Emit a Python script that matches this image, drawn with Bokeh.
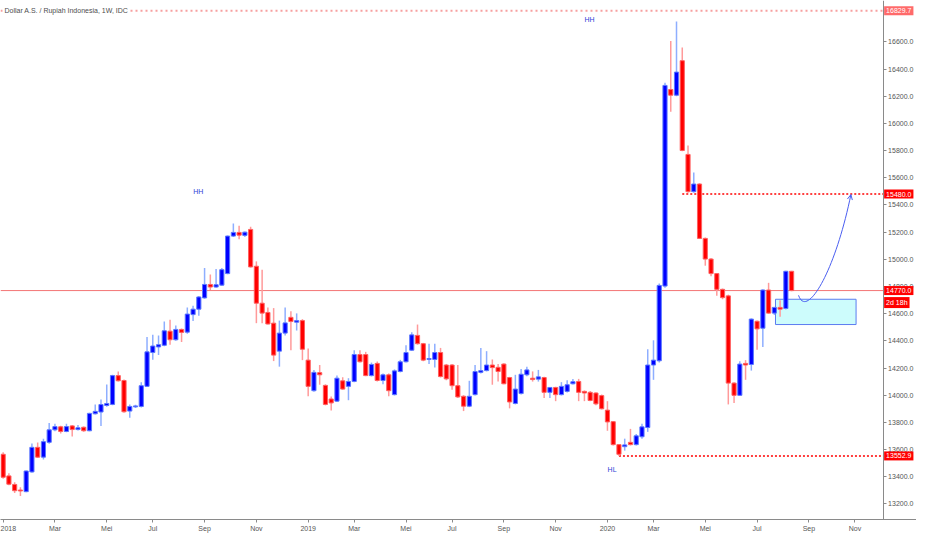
import numpy as np
import pandas as pd
from bokeh.plotting import figure
from bokeh.models import (Range1d, FixedTicker, NumeralTickFormatter, Label, LinearAxis,
                          Arrow, OpenHead, ColumnDataSource)
from bokeh.embed import file_html
from bokeh.resources import INLINE

# ---------------- data (weekly USD/IDR candles, first week 2018-01-01) ----------------
FIRST_WEEK = "2018-01-01"
opens = [13565, 13406, 13343, 13302, 13290, 13435, 13616, 13544, 13653, 13745,
         13767, 13733, 13774, 13747, 13764, 13738, 13863, 13876, 13924, 13932,
         14144, 14108, 13883, 13914, 13917, 14065, 14314, 14355, 14367, 14471,
         14408, 14484, 14464, 14593, 14633, 14716, 14815, 14796, 14810, 14895,
         15171, 15198, 15176, 15220, 14949, 14677, 14609, 14530, 14324, 14457,
         14573, 14537, 14549, 14258, 14033, 14166, 14072, 13972, 13956, 14106,
         14065, 14101, 14299, 14299, 14144, 14234, 14108, 14150, 14004, 14174,
         14246, 14331, 14440, 14379, 14263, 14263, 14314, 14222, 14222, 14070,
         13992, 13919, 14004, 14168, 14181, 14222, 14205, 14229, 14130, 13939,
         14012, 14150, 14125, 14118, 14130, 14021, 14057, 14004, 14028, 14084,
         14101, 14028, 14021, 14016, 13997, 13890, 13805, 13636, 13621, 13653,
         13636, 13694, 13762, 14222, 14253, 14803, 16250, 16208, 16462, 15772,
         15498, 15554, 15154, 15002, 14895, 14779, 14731, 14089, 13999, 14234,
         14226, 14544, 14493, 14774, 14604, 14646, 14638, 14912]
highs = [13580, 13425, 13360, 13323, 13445, 13645, 13652, 13680, 13796, 13789,
         13775, 13789, 13780, 13781, 13770, 13870, 13932, 13968, 14079, 14150,
         14174, 14115, 13932, 13930, 14096, 14428, 14444, 14440, 14542, 14556,
         14513, 14490, 14646, 14658, 14730, 14936, 14888, 14929, 14936, 15175,
         15263, 15247, 15205, 15239, 14985, 14924, 14646, 14641, 14549, 14646,
         14617, 14602, 14560, 14343, 14186, 14222, 14080, 13990, 14144, 14132,
         14125, 14331, 14331, 14319, 14240, 14248, 14160, 14160, 14190, 14260,
         14367, 14464, 14520, 14385, 14379, 14379, 14348, 14230, 14230, 14222,
         14000, 14106, 14222, 14348, 14324, 14263, 14230, 14235, 14135, 14150,
         14193, 14210, 14175, 14186, 14136, 14060, 14062, 14096, 14110, 14120,
         14120, 14035, 14030, 14022, 14005, 13956, 13810, 13640, 13680, 13752,
         13715, 13790, 14338, 14404, 14822, 16300, 16607, 16750, 16559, 15837,
         15639, 15560, 15160, 15010, 14900, 14785, 14740, 14095, 14250, 14258,
         14565, 14550, 14780, 14827, 14650, 14699, 14915, 14915]
lows = [13385, 13338, 13280, 13258, 13285, 13430, 13540, 13527, 13643, 13735,
        13718, 13728, 13696, 13740, 13730, 13735, 13858, 13774, 13915, 13925,
        14100, 13870, 13834, 13905, 13910, 14060, 14261, 14295, 14360, 14372,
        14400, 14392, 14452, 14546, 14585, 14710, 14774, 14790, 14805, 14890,
        15165, 15147, 15165, 14940, 14530, 14530, 14520, 14251, 14210, 14440,
        14331, 14476, 14258, 13992, 14025, 14077, 13925, 13888, 13950, 14040,
        13963, 14095, 14240, 14140, 14138, 14100, 14081, 13992, 13998, 14168,
        14240, 14325, 14372, 14250, 14230, 14203, 14130, 14110, 14040, 13980,
        13883, 13912, 13998, 14160, 14175, 14077, 14101, 14080, 13903, 13932,
        14005, 14140, 14100, 14100, 13980, 13980, 13956, 13998, 14020, 14078,
        13956, 13956, 13955, 13925, 13895, 13738, 13630, 13552.9, 13592, 13630,
        13630, 13680, 13730, 14113, 14240, 14790, 16087, 16200, 15795, 15490,
        15490, 15150, 14953, 14876, 14731, 14706, 13932, 13943, 13995, 14113,
        14181, 14335, 14355, 14600, 14590, 14578, 14630, 14765]
closes = [13396, 13345, 13297, 13295, 13442, 13616, 13544, 13658, 13745, 13769,
          13733, 13769, 13747, 13760, 13738, 13866, 13881, 13931, 13939, 14144,
          14106, 13878, 13917, 13921, 14070, 14319, 14362, 14372, 14474, 14408,
          14484, 14462, 14597, 14633, 14723, 14815, 14796, 14813, 14924, 15171,
          15198, 15178, 15200, 14944, 14677, 14604, 14524, 14295, 14457, 14532,
          14542, 14549, 14338, 14065, 14168, 14150, 13932, 13943, 14125, 14045,
          14101, 14299, 14246, 14144, 14226, 14108, 14150, 14033, 14179, 14246,
          14314, 14444, 14379, 14258, 14270, 14314, 14137, 14120, 14070, 13987,
          13919, 13992, 14174, 14181, 14222, 14203, 14174, 14084, 13950, 14045,
          14154, 14186, 14115, 14135, 14021, 14057, 14004, 14065, 14077, 14099,
          14021, 14016, 13961, 13936, 13900, 13803, 13636, 13565, 13634, 13636,
          13701, 13767, 14222, 14258, 14808, 16280, 16208, 16378, 15801, 15498,
          15554, 15154, 15002, 14895, 14779, 14718, 14089, 13999, 14229, 14222,
          14560, 14488, 14774, 14604, 14646, 14633, 14912, 14770]

# tick labels (Indonesian month abbreviations; January shows the year)
tick_months = [1, 3, 5, 7, 9, 11]
month_names = {3: "Mar", 5: "Mei", 7: "Jul", 9: "Sep", 11: "Nov"}
tick_years = [2018, 2019, 2020]
price_ticks = list(range(13200, 16601, 200))

# annotation levels and texts
top_level = 16829.7
resist_level = 15480.0
resist_start_bar = 118
hl_level = 13552.9
last_price = closes[-1]
countdown = "2d 18h"
title_text = "Dollar A.S. / Rupiah Indonesia, 1W, IDC"
swing_labels = [("HH", 33.9, 15496), ("HH", 101.9, 16767), ("HL", 105.8, 13454)]
zone_left, zone_right, zone_top, zone_bottom = 134.2, 148.2, 14706, 14520
path_start = (138.2, 14735)
path_c1 = (139.6, 14560)
path_c2 = (144.5, 14900)
path_end = (147.3, 15476)

X_RANGE = (-0.46, 158.7)
AXIS_X = 152.9
Y_RANGE = (13085, 16905)

# ---------------- figure ----------------
FONT = "Liberation Sans"
BLUE, RED = "#0000ff", "#ff0000"

p = figure(width=916, height=534, output_backend="svg", toolbar_location=None,
           x_range=Range1d(*X_RANGE), y_range=Range1d(*Y_RANGE),
           y_axis_location=None, min_border_left=0, min_border_top=0,
           min_border_right=0, min_border_bottom=14)
p.outline_line_color = None
p.grid.visible = False
p.background_fill_color = "white"

n = len(opens)
idx = np.arange(n)
o = np.array(opens, float); h = np.array(highs, float)
l = np.array(lows, float); c = np.array(closes, float)
up = c >= o
src = ColumnDataSource(dict(
    x=idx, high=h, low=l,
    top=np.maximum(o, c), bottom=np.minimum(o, c),
    fill=np.where(up, BLUE, RED),
    edge=np.where(up, "#5a78ff", "#ff6060"),
    wick=np.where(up, "#8eaeff", "#ff9a9a"),
))

# zone box
p.quad(left=[zone_left], right=[zone_right], top=[zone_top], bottom=[zone_bottom],
       fill_color="#c8fcfc", fill_alpha=0.9, line_color="#5b7cf0", line_width=1)

# horizontal levels
p.segment(x0=[X_RANGE[0]], y0=[top_level], x1=[AXIS_X], y1=[top_level],
          line_color="#f7a0a0", line_width=2, line_dash="2 3")
p.segment(x0=[X_RANGE[0]], y0=[last_price], x1=[AXIS_X], y1=[last_price],
          line_color="#f04848", line_alpha=0.75, line_width=1)
hl_bar = lows.index(hl_level)
p.segment(x0=[resist_start_bar, hl_bar], y0=[resist_level, hl_level],
          x1=[AXIS_X, AXIS_X], y1=[resist_level, hl_level],
          line_color=RED, line_width=1.5, line_dash="2 2")

# candles
p.segment(x0="x", y0="high", x1="x", y1="low", source=src, line_color="wick", line_width=1.5)
p.vbar(x="x", width=0.72, top="top", bottom="bottom", source=src,
       fill_color="fill", line_color="edge", line_width=1)

# projected path
p.bezier(x0=[path_start[0]], y0=[path_start[1]], x1=[path_end[0]], y1=[path_end[1]],
         cx0=[path_c1[0]], cy0=[path_c1[1]], cx1=[path_c2[0]], cy1=[path_c2[1]],
         line_color="#4a5ef0", line_width=1)
p.add_layout(Arrow(end=OpenHead(size=5, line_color="#4a5ef0", line_width=1),
                   x_start=path_c2[0], y_start=path_c2[1], x_end=path_end[0], y_end=path_end[1],
                   line_alpha=0))

# swing labels
for txt, bx, by in swing_labels:
    p.add_layout(Label(x=bx, y=by, text=txt, text_align="center", text_baseline="middle",
                       text_color="#2f3fd6", text_font=FONT, text_font_size="7px"))

# title
p.add_layout(Label(x=X_RANGE[0], y=top_level, x_offset=3, text=title_text,
                   text_baseline="middle", text_color="#4d4d4d", text_font=FONT,
                   text_font_size="7px", background_fill_color="white", padding=1))

# price axis, fixed inside the frame so that tags can sit over it
yax = LinearAxis(ticker=FixedTicker(ticks=price_ticks),
                 formatter=NumeralTickFormatter(format="0.0"), fixed_location=AXIS_X)
p.add_layout(yax, "right")

for ax in (yax, p.xaxis[0]):
    ax.axis_line_color = "#8a8a8a"
    ax.major_tick_line_color = "#8a8a8a"
    ax.major_tick_in = 0
    ax.major_tick_out = 3
    ax.minor_tick_line_color = None
    ax.major_label_text_color = "#555555"
    ax.major_label_text_font = FONT
    ax.major_label_text_font_size = "7px"
    ax.major_label_standoff = 2

weeks = pd.date_range(FIRST_WEEK, periods=200, freq="7D")
xt, xl = [], {}
for yr in tick_years:
    for m in tick_months:
        i = int(np.searchsorted(weeks.values, np.datetime64(f"{yr}-{m:02d}-01")))
        if X_RANGE[0] <= i <= AXIS_X:
            xt.append(i)
            xl[i] = str(yr) if m == 1 else month_names[m]
p.xaxis.ticker = FixedTicker(ticks=xt)
p.xaxis.major_label_overrides = xl

# price tags on the price axis
tags = [(top_level, f"{top_level:.1f}", "#ff6a6a", 0),
        (resist_level, f"{resist_level:.1f}", RED, 0),
        (last_price, f"{last_price:.1f}", RED, 0),
        (last_price, countdown, RED, -12),
        (hl_level, f"{hl_level:.1f}", RED, 0)]
for lvl, txt, col, yo in tags:
    p.add_layout(Label(x=AXIS_X, y=lvl, x_offset=1, y_offset=yo, text=txt,
                       text_baseline="middle", text_align="left", text_color="white",
                       text_font=FONT, text_font_size="7px",
                       background_fill_color=col, padding=2))

open("out.html", "w").write(file_html(p, INLINE))
